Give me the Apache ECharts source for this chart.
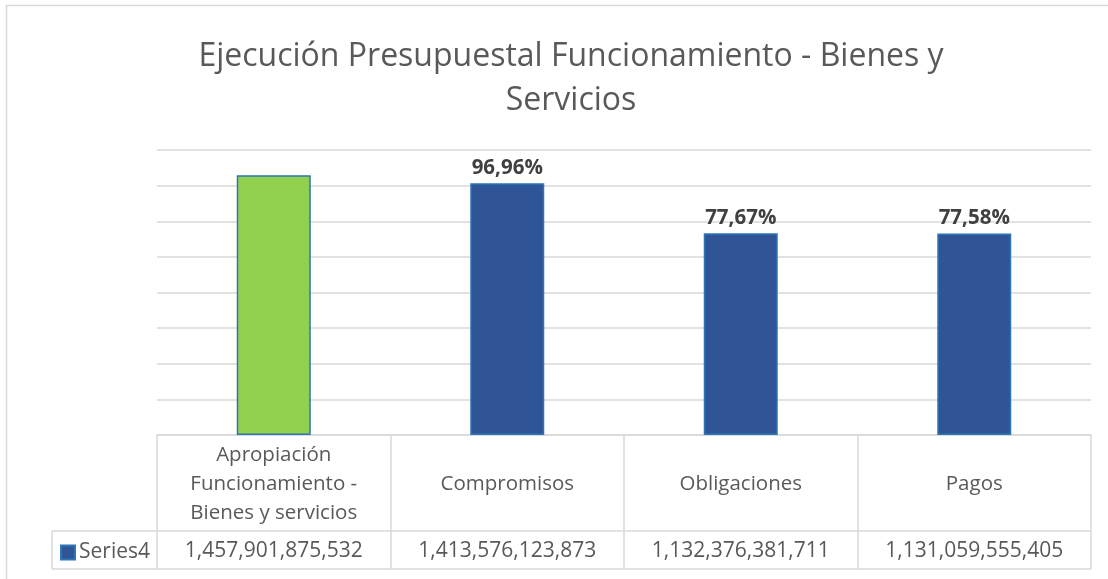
<!DOCTYPE html>
<html>
<head>
<meta charset="utf-8">
<script src="https://cdn.jsdelivr.net/npm/echarts@6/dist/echarts.min.js"></script>
<style>
  html,body{margin:0;padding:0;background:#fff}
  #chart{width:1108px;height:579px}
</style>
</head>
<body>
<div id="chart"></div>
<script>
// categories, values and the percent labels shown above the bars
var categories = ['Apropiación\nFuncionamiento -\nBienes y servicios', 'Compromisos', 'Obligaciones', 'Pagos']
var values = [1457901875532, 1413576123873, 1132376381711, 1131059555405]
var pctLabels = ['', '96,96%', '77,67%', '77,58%']
var seriesName = 'Series4'

var FONT = '"Open Sans", "Noto Sans", sans-serif'
var gridColor = '#d9d9d9'
var textColor = '#595959'

var chart = echarts.init(document.getElementById('chart'))

var valueLabels = values.map(function(v){ return v.toLocaleString('en-US') })

var option = {
  animation:false,
  textStyle:{fontFamily:FONT},
  title:{
    text:'Ejecución Presupuestal Funcionamiento - Bienes y\nServicios',
    left:566,
    top:30,
    textAlign:'center',
    textStyle:{
      fontFamily:FONT,
      fontSize:32,
      fontWeight:'normal',
      color:textColor,
      lineHeight:44
    }
  },
  legend:{
    left:60,
    top:542,
    padding:0,
    icon:'rect',
    itemWidth:14,
    itemHeight:14,
    itemGap:4,
    data:[seriesName],
    textStyle:{fontFamily:FONT,fontSize:21,color:textColor,padding:[0,0,0,-1]}
  },
  grid:{left:157,right:17,top:150,bottom:144,containLabel:false},
  xAxis:[{
    type:'category',
    data:categories,
    position:'bottom',
    axisLine:{lineStyle:{color:gridColor,width:1.5}},
    axisTick:{show:true,length:134,lineStyle:{color:gridColor,width:1.5}},
    axisLabel:{
      interval:0,
      margin:49,
      verticalAlign:'middle',
      fontFamily:FONT,
      fontSize:20.5,
      lineHeight:29,
      color:textColor
    }
  },{
    type:'category',
    data:valueLabels,
    position:'bottom',
    axisLine:{show:false},
    axisTick:{show:false},
    axisLabel:{
      interval:0,
      margin:116,
      verticalAlign:'middle',
      fontFamily:FONT,
      fontSize:21,
      color:textColor
    }
  }],
  yAxis:{
    type:'value',
    min:0,
    max:1600000000000,
    interval:200000000000,
    axisLabel:{show:false},
    axisLine:{show:false},
    axisTick:{show:false},
    splitLine:{lineStyle:{color:gridColor,width:1.5}}
  },
  series:[{
    name:seriesName,
    type:'bar',
    barWidth:'31.7%',
    data:values.map(function(v,i){
      return i === 0 ? {value:v,itemStyle:{color:'#92D050'}} : v
    }),
    itemStyle:{color:'#2F5597',borderColor:'#2E75B6',borderWidth:1.5},
    label:{
      show:true,
      position:'top',
      distance:5,
      fontFamily:FONT,
      fontSize:20.5,
      fontWeight:'bold',
      color:'#404040',
      formatter:function(p){ return pctLabels[p.dataIndex] }
    }
  }],
  graphic:[
    // outer chart border
    {type:'rect',shape:{x:6.5,y:5.5,width:1120,height:600},style:{fill:null,stroke:gridColor,lineWidth:1.5},silent:true},
    // data table lines
    {type:'line',shape:{x1:52,y1:531,x2:1091,y2:531},style:{stroke:gridColor,lineWidth:1.5}},
    {type:'line',shape:{x1:52,y1:569,x2:1091,y2:569},style:{stroke:gridColor,lineWidth:1.5}},
    {type:'line',shape:{x1:52,y1:531,x2:52,y2:569},style:{stroke:gridColor,lineWidth:1.5}}
  ]
}

chart.setOption(option)
</script>
</body>
</html>
